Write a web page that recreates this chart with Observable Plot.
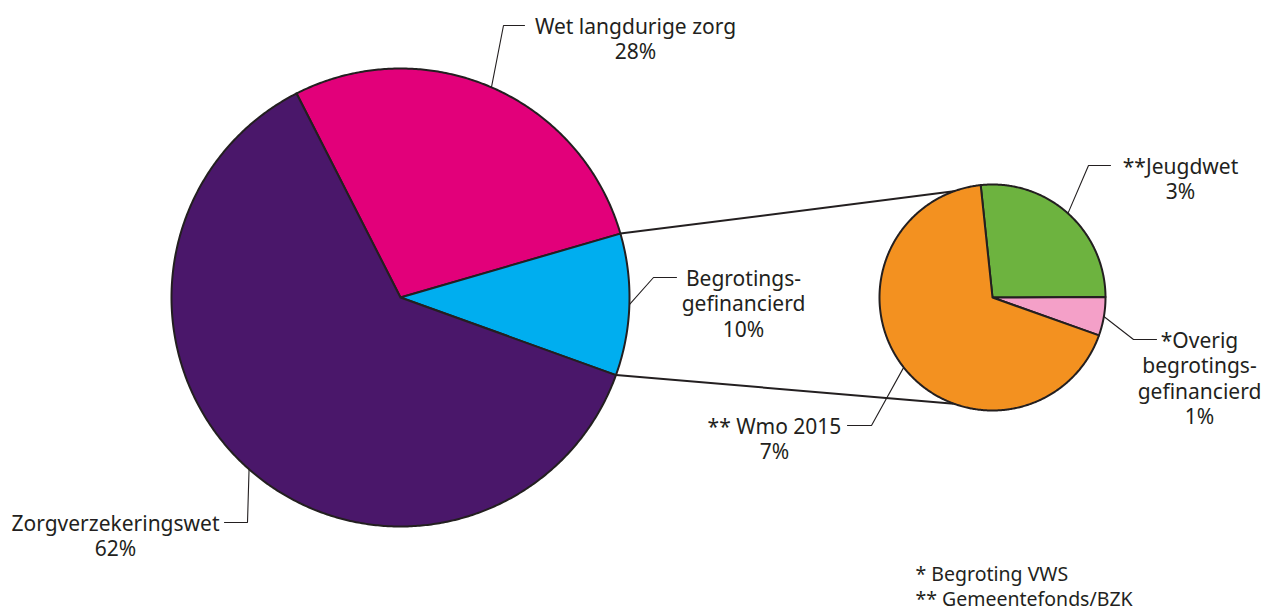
<!DOCTYPE html>
<html>
<head>
<meta charset="utf-8">
<script src="https://cdn.jsdelivr.net/npm/d3@7"></script>
<script src="https://cdn.jsdelivr.net/npm/@observablehq/plot@0.6"></script>
<style>
  html, body { margin: 0; padding: 0; background: #fff; }
  #chart svg { display: block; }
</style>
</head>
<body>
<div id="chart"></div>
<script>
// ---- data ----
const mainCategories = ["Wet langdurige zorg", "Begrotingsgefinancierd", "Zorgverzekeringswet"];
const mainValues = [28, 10, 62];
const mainLabels = [["Wet langdurige zorg", "28%"], ["Begrotings-", "gefinancierd", "10%"], ["Zorgverzekeringswet", "62%"]];
const mainColors = ["#e2007a", "#00aeef", "#4a176a"];

const subCategories = ["Jeugdwet", "Overig begrotingsgefinancierd", "Wmo 2015"];
const subValues = [2.9, 0.6, 7.4];
const subLabels = [["**Jeugdwet", "3%"], ["*Overig", "begrotings-", "gefinancierd", "1%"], ["** Wmo 2015", "7%"]];
const subColors = ["#6db33f", "#f4a0c8", "#f39120"];

const footnotes = ["* Begroting VWS", "** Gemeentefonds/BZK"];

// ---- layout ----
const W = 1266, H = 610;
const deg = Math.PI / 180;
const big = {cx: 400, cy: 297, r: 229, start: -27 * deg};
const small = {cx: 992, cy: 297, r: 113, start: -6 * deg};
const ink = "#231f20";
const font = "Noto Sans, sans-serif";
const fs = 21, lh = 25.5;

// label layout: elbow point, horizontal end, text center, first line y
const mainLayout = [
  {elbow: [503, 25], end: 524, tx: 635, ty: 25},
  {elbow: [653, 277], end: 676, tx: 743, ty: 277},
  {elbow: [247, 522], end: 224, tx: 115, ty: 522}
];
const subLayout = [
  {elbow: [1088, 165], end: 1110, tx: 1180, ty: 165},
  {elbow: [1133, 339], end: 1156, tx: 1199, ty: 339},
  {elbow: [871, 425], end: 847, tx: 774, ty: 425}
];

const pt = (c, a, r) => [c.cx + r * Math.sin(a), c.cy - r * Math.cos(a)];

function slices(c, cats, vals) {
  const arcs = d3.pie().sort(null).startAngle(c.start).endAngle(c.start + 2 * Math.PI)(vals);
  return arcs.map((a, i) => ({cat: cats[i], a0: a.startAngle, a1: a.endAngle, mid: (a.startAngle + a.endAngle) / 2}));
}
const bigArcs = slices(big, mainCategories, mainValues);
const smallArcs = slices(small, subCategories, subValues);

function polygon(c, arcs) {
  const rows = [];
  for (const s of arcs) {
    const n = Math.max(4, Math.ceil((s.a1 - s.a0) / (0.5 * deg)));
    rows.push({cat: s.cat, x: c.cx, y: c.cy});
    for (let k = 0; k <= n; k++) {
      const [x, y] = pt(c, s.a0 + (s.a1 - s.a0) * k / n, c.r);
      rows.push({cat: s.cat, x, y});
    }
    rows.push({cat: s.cat, x: c.cx, y: c.cy});
  }
  return rows;
}
const bigPoly = polygon(big, bigArcs);
const smallPoly = polygon(small, smallArcs);

// connector lines from the "Begrotingsgefinancierd" slice to the small pie
const bg = bigArcs[1];
const connectors = [
  {p: pt(big, bg.a0, big.r), q: pt(small, -20 * deg, small.r)},
  {p: pt(big, bg.a1, big.r), q: pt(small, 200 * deg, small.r)}
].map(d => ({x1: d.p[0], y1: d.p[1], x2: d.q[0], y2: d.q[1]}));

// leaders and texts
const leaders = [];
const texts = [];
function addLabels(c, arcs, labels, layout) {
  arcs.forEach((s, i) => {
    const L = layout[i];
    const [x0, y0] = pt(c, s.mid, c.r);
    leaders.push({id: s.cat, x: x0, y: y0});
    leaders.push({id: s.cat, x: L.elbow[0], y: L.elbow[1]});
    leaders.push({id: s.cat, x: L.end, y: L.elbow[1]});
    const n = labels[i].length;
    texts.push({x: L.tx, y: L.ty + (n - 1) / 2 * lh, text: labels[i].join("\n")});
  });
}
addLabels(big, bigArcs, mainLabels, mainLayout);
addLabels(small, smallArcs, subLabels, subLayout);
const fsNote = 19.5, lhNote = 25;
const notes = [{x: 915, y: 572 + lhNote / 2, text: footnotes.join("\n")}];

const chart = Plot.plot({
  width: W, height: H,
  margin: 0,
  style: {background: "#fff", fontFamily: font},
  x: {domain: [0, W], range: [0, W], axis: null},
  y: {domain: [0, H], range: [0, H], axis: null},
  color: {domain: [...mainCategories, ...subCategories], range: [...mainColors, ...subColors]},
  marks: [
    Plot.link(connectors, {x1: "x1", y1: "y1", x2: "x2", y2: "y2", stroke: ink, strokeWidth: 2}),
    Plot.line(leaders, {x: "x", y: "y", z: "id", stroke: ink, strokeWidth: 1.1, strokeLinejoin: "miter"}),
    Plot.line(bigPoly, {x: "x", y: "y", z: "cat", fill: "cat", stroke: ink, strokeWidth: 2, curve: "linear"}),
    Plot.line(smallPoly, {x: "x", y: "y", z: "cat", fill: "cat", stroke: ink, strokeWidth: 2, curve: "linear"}),
    Plot.text(texts, {x: "x", y: "y", text: "text", fill: ink, fontSize: fs, lineHeight: lh / fs, textAnchor: "middle", fontFamily: font}),
    Plot.text(notes, {x: "x", y: "y", text: "text", fill: ink, fontSize: fsNote, lineHeight: lhNote / fsNote, textAnchor: "start", fontFamily: font})
  ]
});
document.getElementById("chart").appendChild(chart);
</script>
</body>
</html>
